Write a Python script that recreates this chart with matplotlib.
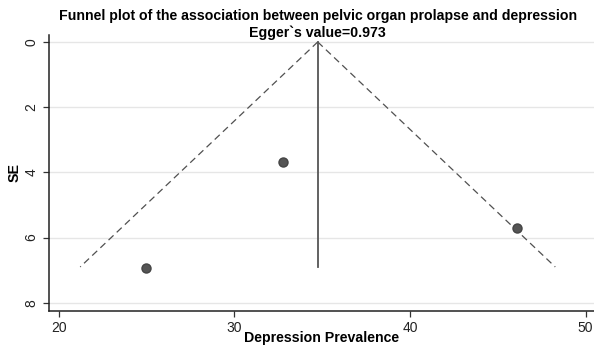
import matplotlib
matplotlib.use("Agg")
import matplotlib.pyplot as plt
import numpy as np

plt.rcParams['font.family'] = ['Liberation Sans', 'DejaVu Sans']

# Study estimates: prevalence (%) and standard error
prevalence = [25.0, 32.8, 46.1]
se = [6.92, 3.67, 5.70]

pooled = 34.75
se_max = 6.9

xticks = [20, 30, 40, 50]
yticks = [0, 2, 4, 6, 8]

fig = plt.figure(figsize=(5.94, 3.51), dpi=100)
ax = fig.add_axes([0.0825, 0.115, 0.9175, 0.785])

# horizontal grid
for t in yticks:
    ax.axhline(t, color='#e6e6e6', lw=1.0, zorder=0)

# pseudo 95% confidence funnel
se_line = np.array([0.0, se_max])
ax.plot(pooled - 1.96 * se_line, se_line, ls=(0, (5.5, 3.5)), color='#505050', lw=0.9, zorder=2)
ax.plot(pooled + 1.96 * se_line, se_line, ls=(0, (5.5, 3.5)), color='#505050', lw=0.9, zorder=2)
ax.plot([pooled, pooled], [0, se_max], color='#555555', lw=1.3, zorder=2)

ax.plot(prevalence, se, 'o', color='#555555', markersize=6.5, markeredgecolor='#444444', zorder=3)

ax.set_xlim(19.45, 50.48)
ax.set_ylim(8.24, -0.21)
ax.set_xticks(xticks)
ax.set_yticks(yticks)
ax.tick_params(axis='both', labelsize=10, color='#333333', length=4, width=0.9,
               labelcolor='#222222')
for lab in ax.get_yticklabels():
    lab.set_rotation(90)
    lab.set_va('center')

for s in ['top', 'right']:
    ax.spines[s].set_visible(False)
for s in ['left', 'bottom']:
    ax.spines[s].set_color('#222222')
    ax.spines[s].set_linewidth(1.1)

ax.set_xlabel('Depression Prevalence', fontsize=10.2, fontweight='bold', labelpad=-3)
ax.set_ylabel('SE', fontsize=10.2, fontweight='bold', labelpad=2)

fig.text(0.535, 0.955, 'Funnel plot of the association between pelvic organ prolapse and depression',
         ha='center', va='center', fontsize=10.2, fontweight='bold')
fig.text(0.535, 0.907, 'Egger`s value=0.973', ha='center', va='center', fontsize=10.2, fontweight='bold')

fig.savefig('out.png', dpi=100)
